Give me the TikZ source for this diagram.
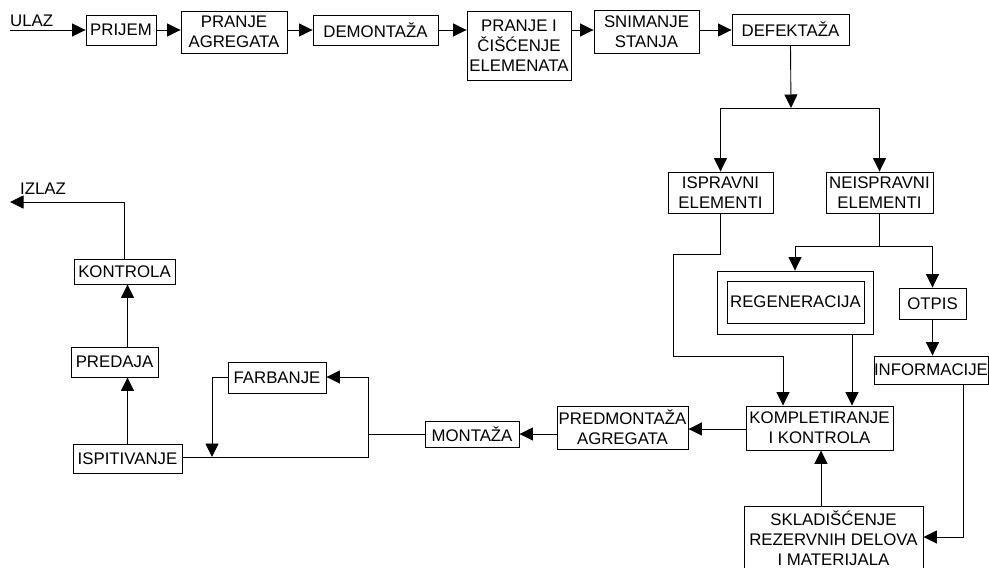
\documentclass[tikz,border=0pt]{standalone}
\usepackage{fontspec}
\setmainfont{Liberation Sans}
\usetikzlibrary{arrows.meta}
\tikzset{
 box/.style={draw, line width=0.9pt, inner sep=0pt, align=center, font=\fontsize{16.8}{20}\selectfont},
 lbl/.style={inner sep=0pt, font=\fontsize{16.8}{20}\selectfont},
 ln/.style={line width=0.9pt},
 arr/.style={ln, -{Triangle[length=13.5pt,width=13pt]}},
}
\begin{document}
\begin{tikzpicture}[x=1pt,y=-1pt]
\useasboundingbox (0,0) rectangle (989,568);
% top row
\node[lbl, anchor=base west] (ulaz) at (10,26) {ULAZ};
\coordinate (ulazstart) at (10,30);
\node[box, minimum width=70pt, minimum height=30pt] (prijem) at (121,30) {PRIJEM};
\node[box, minimum width=106pt, minimum height=42pt] (pranjeag) at (234,32) {PRANJE\\AGREGATA};
\node[box, minimum width=125pt, minimum height=30pt] (demont) at (375.5,30) {DEMONTAŽA};
\node[box, minimum width=104pt, minimum height=69pt] (pranjeI) at (519,45.5) {PRANJE I\\ČIŠĆENJE\\ELEMENATA};
\node[box, minimum width=105pt, minimum height=43pt] (snim) at (646.5,31.5) {SNIMANJE\\STANJA};
\node[box, minimum width=117pt, minimum height=31pt] (defekt) at (790.5,29.5) {DEFEKTAŽA};
% right column
\node[box, minimum width=105pt, minimum height=41pt] (ispravni) at (720.5,192.5) {ISPRAVNI\\ELEMENTI};
\node[box, minimum width=107pt, minimum height=41pt] (neispravni) at (879.5,192.5) {NEISPRAVNI\\ELEMENTI};
\node[box, minimum width=156pt, minimum height=63pt] (regout) at (795,302.5) {};
\node[box, minimum width=137pt, minimum height=42pt] (regen) at (795.5,302) {REGENERACIJA};
\node[box, minimum width=67pt, minimum height=31pt] (otpis) at (932.5,303.5) {OTPIS};
\node[box, minimum width=114pt, minimum height=28pt] (informacije) at (931,370) {INFORMACIJE};
\node[box, minimum width=147pt, minimum height=44pt] (komplet) at (819.5,428) {KOMPLETIRANJE\\I KONTROLA};
\node[box, minimum width=179pt, minimum height=64pt] (skladis) at (833.5,538) {SKLADIŠĆENJE\\REZERVNIH DELOVA\\I MATERIJALA};
% bottom row
\node[box, minimum width=131pt, minimum height=43pt] (predmont) at (622.5,427.5) {PREDMONTAŽA\\AGREGATA};
\node[box, minimum width=94pt, minimum height=26pt] (montaza) at (472,434) {MONTAŽA};
\node[box, minimum width=98pt, minimum height=31pt] (farbanje) at (277,377.5) {FARBANJE};
\node[box, minimum width=109pt, minimum height=29pt] (ispit) at (127.5,458.5) {ISPITIVANJE};
\node[box, minimum width=87pt, minimum height=30pt] (predaja) at (114.5,362) {PREDAJA};
\node[box, minimum width=101pt, minimum height=25pt] (kontrola) at (124.5,271.5) {KONTROLA};
\node[lbl, anchor=base west] (izlaz) at (20,194) {IZLAZ};
% connectors top row
\draw[ln] (ulazstart) -- (ulaz.base west |- ulazstart);
\draw[arr] (ulazstart) -- (prijem.west);
\draw[arr] (prijem.east) -- (prijem.east -| pranjeag.west);
\draw[arr] (pranjeag.east |- prijem.east) -- (demont.west);
\draw[arr] (demont.east) -- (demont.east -| pranjeI.west);
\draw[arr] (pranjeI.east |- demont.east) -- (snim.west |- demont.east);
\draw[arr] (snim.east |- demont.east) -- (defekt.west |- demont.east);
% defektaza split
\coordinate (split) at (791,108);
\draw[arr] (defekt.south) -- (split);
\draw[ln] (ispravni.north |- split) -- (neispravni.north |- split);
\draw[arr] (ispravni.north |- split) -- (ispravni.north);
\draw[arr] (neispravni.north |- split) -- (neispravni.north);
% ispravni -> kompletiranje
\coordinate (iB) at (673,254);
\coordinate (iC) at (673,356);
\coordinate (iD) at (783,356);
\draw[arr] (ispravni.south) |- (iB) -- (iC) -- (iD) -- (iD |- komplet.north);
% neispravni split
\coordinate (nS) at (880,246);
\draw[ln] (neispravni.south) -- (neispravni.south |- nS);
\draw[ln] (regout.north |- nS) -- (otpis.north |- nS);
\draw[arr] (regout.north |- nS) -- (regout.north);
\draw[arr] (otpis.north |- nS) -- (otpis.north);
% regeneracija -> kompletiranje
\coordinate (rK) at (852,334);
\draw[arr] (rK |- regout.south) -- (rK |- komplet.north);
% otpis -> informacije -> skladiscenje
\draw[arr] (otpis.south) -- (otpis.south |- informacije.north);
\coordinate (inf1) at (963,537);
\draw[arr] (inf1 |- informacije.south) -- (inf1) -- (inf1 -| skladis.east);
% skladiscenje -> kompletiranje
\coordinate (sk1) at (821,500);
\draw[arr] (sk1 |- skladis.north) -- (sk1 |- komplet.south);
% kompletiranje -> predmontaza -> montaza
\coordinate (kp) at (700,429);
\draw[arr] (komplet.west |- kp) -- (predmont.east |- kp);
\draw[arr] (predmont.west |- montaza.east) -- (montaza.east);
% montaza -> farbanje / ispitivanje
\coordinate (jTop) at (368,377);
\coordinate (jBot) at (368,457);
\draw[ln] (montaza.west) -- (montaza.west -| jTop);
\draw[ln] (ispit.east |- jBot) -- (jBot) -- (jTop);
\draw[arr] (jTop) -- (jTop -| farbanje.east);
\coordinate (fL) at (212,377);
\draw[arr] (farbanje.west |- fL) -- (fL) -- (fL |- jBot);
% left column
\draw[arr] (ispit.north) -- (ispit.north |- predaja.south);
\draw[arr] (ispit.north |- predaja.north) -- (ispit.north |- kontrola.south);
\coordinate (kz) at (124,202);
\coordinate (izlazend) at (10,202);
\draw[arr] (kontrola.north -| kz) -- (kz) -- (izlazend);
\end{tikzpicture}
\end{document}
